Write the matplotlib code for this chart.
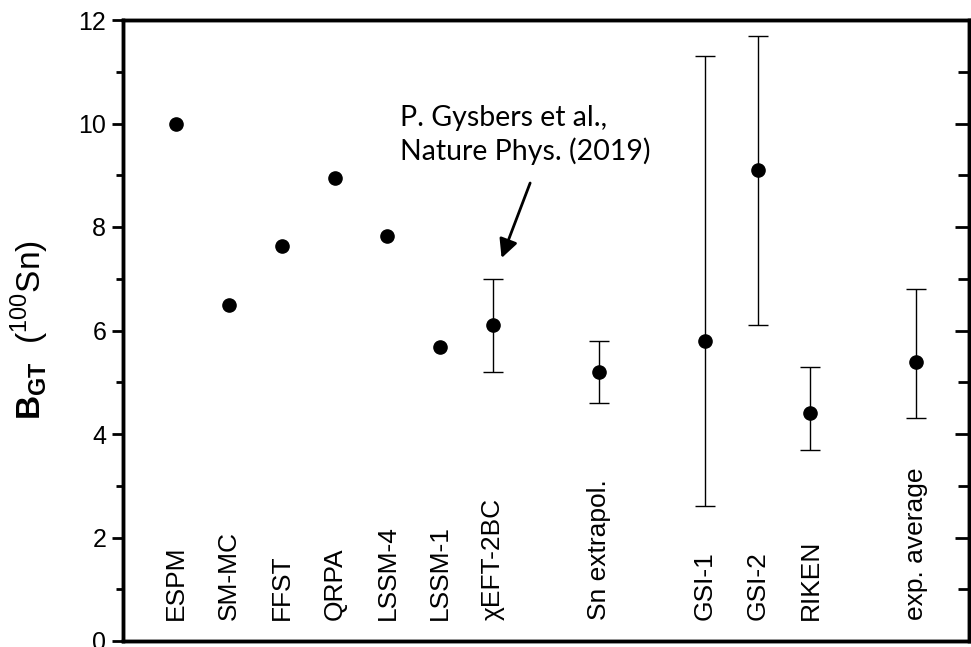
import matplotlib
matplotlib.use("Agg")
import matplotlib.pyplot as plt

# ---- data ----
categories = ["ESPM", "SM-MC", "FFST", "QRPA", "LSSM-4", "LSSM-1", "χEFT-2BC",
              "Sn extrapol.", "GSI-1", "GSI-2", "RIKEN", "exp. average"]
positions = [1, 2, 3, 4, 5, 6, 7, 9, 11, 12, 13, 15]
values = [10.0, 6.5, 7.63, 8.95, 7.83, 5.69, 6.1, 5.2, 5.8, 9.1, 4.4, 5.4]
err_low = [0, 0, 0, 0, 0, 0, 0.9, 0.6, 3.2, 3.0, 0.7, 1.1]
err_high = [0, 0, 0, 0, 0, 0, 0.9, 0.6, 5.5, 2.6, 0.9, 1.4]
has_err = [False, False, False, False, False, False, True, True, True, True, True, True]
yticks = [0, 2, 4, 6, 8, 10, 12]
annotation_text = "P. Gysbers et al.,\nNature Phys. (2019)"

plt.rcParams['mathtext.fontset'] = 'custom'
plt.rcParams['mathtext.rm'] = 'Liberation Sans'
plt.rcParams['mathtext.bf'] = 'Liberation Sans:bold'
plt.rcParams['font.family'] = ['Liberation Sans', 'DejaVu Sans']

fig = plt.figure(figsize=(9.71, 6.47), dpi=100)
ax = fig.add_axes([123/971, 6/647, (969-123)/971, (641-20)/647])

# points without error
px = [p for p, h in zip(positions, has_err) if not h]
py = [v for v, h in zip(values, has_err) if not h]
ax.plot(px, py, 'o', color='black', markersize=9.5, linestyle='none', zorder=3)

ex = [p for p, h in zip(positions, has_err) if h]
ey = [v for v, h in zip(values, has_err) if h]
elo = [l for l, h in zip(err_low, has_err) if h]
ehi = [u for u, h in zip(err_high, has_err) if h]
ax.errorbar(ex, ey, yerr=[elo, ehi], fmt='o', color='black', markersize=9.5,
            ecolor='black', elinewidth=1.0, capsize=7.5, capthick=1.0, zorder=3)

for p, c in zip(positions, categories):
    ax.text(p, 0.41, c, rotation=90, ha='center', va='bottom', fontsize=19)

ax.set_xlim(0, 16)
ax.set_ylim(0, 12)
ax.set_xticks([])
ax.set_yticks(yticks)
ax.set_yticks([1, 3, 5, 7, 9, 11], minor=True)
ax.tick_params(axis='y', which='major', direction='out', length=8, width=2, labelsize=18, pad=4)
ax.tick_params(axis='y', which='minor', direction='out', length=5, width=2)
for s in ax.spines.values():
    s.set_linewidth(2.5)

ax2 = ax.twinx()
ax2.set_ylim(0, 12)
ax2.set_yticks(yticks)
ax2.set_yticks([1, 3, 5, 7, 9, 11], minor=True)
ax2.tick_params(axis='y', which='major', direction='in', length=10, width=2, labelright=False)
ax2.tick_params(axis='y', which='minor', direction='in', length=8, width=2)
for s in ax2.spines.values():
    s.set_linewidth(2.5)

ax.set_ylabel(r'$\mathbf{B}_{\mathbf{GT}}$  ($^{100}$Sn)', fontsize=24)
ax.yaxis.set_label_coords(-0.085, 0.5)

ax.text(5.23, 10.36, annotation_text, fontsize=20.5, family=['Lato', 'DejaVu Sans'],
        ha='left', va='top', linespacing=1.3)
ax.annotate('', xy=(7.16, 7.40), xytext=(7.70, 8.85),
            arrowprops=dict(arrowstyle='-|>', color='black', lw=2, mutation_scale=28,
                            shrinkA=0, shrinkB=0))

fig.savefig('out.png', dpi=100)
